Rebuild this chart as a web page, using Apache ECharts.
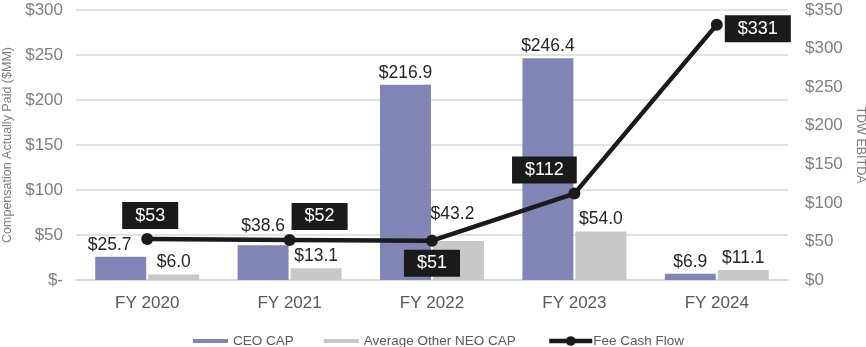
<!DOCTYPE html>
<html>
<head>
<meta charset="utf-8">
<script src="https://cdn.jsdelivr.net/npm/echarts@6/dist/echarts.min.js"></script>
<style>
  html, body { margin: 0; padding: 0; background: #fff; }
  #chart { width: 866px; height: 347px; }
</style>
</head>
<body>
<div id="chart"></div>
<script>
// Fiscal years on the category axis
const years = ['FY 2020', 'FY 2021', 'FY 2022', 'FY 2023', 'FY 2024'];
// Compensation actually paid, $MM (left axis)
const ceoCap = [25.7, 38.6, 216.9, 246.4, 6.9];
const neoCap = [6.0, 13.1, 43.2, 54.0, 11.1];
// Fee cash flow, TDW EBITDA (right axis)
const feeCashFlow = [53, 52, 51, 112, 331];
// Axis tick settings
const leftTicks = { min: 0, max: 300, interval: 50 };
const rightTicks = { min: 0, max: 350, interval: 50 };

const FONT = '"Liberation Sans", Arial, sans-serif';

// Per-point label placement tweaks so labels clear the line
const ceoLabelOffsets = [[-11, 0], [0, -7], [0, 0], [0, 0], [0, 0]];
const neoLabelOffsets = [[0, 0], [0, 0], [-6, -15], [0, 0], [0, 0]];
const flowLabelPlacement = [
  { position: 'top', distance: 4, offset: [3, 0] },
  { position: 'top', distance: 4, offset: [30, 0] },
  { position: 'bottom', distance: 3, offset: [0, 0] },
  { position: 'top', distance: 4, offset: [-30, 0] },
  { position: 'right', distance: 2, offset: [0, 4] }
];

const barLabel = {
  show: true,
  position: 'top',
  distance: 3,
  color: '#262626',
  fontSize: 17.5,
  fontFamily: FONT,
  formatter: p => '$' + p.value.toFixed(1)
};

const chart = echarts.init(document.getElementById('chart'));
chart.setOption({
  animation: false,
  textStyle: { fontFamily: FONT },
  grid: { left: 76, right: 78, top: 10, bottom: 67, containLabel: false, outerBoundsMode: 'none' },
  legend: [
    {
      data: ['CEO CAP', 'Average Other NEO CAP'],
      left: 188, top: 329,
      icon: 'rect', itemWidth: 35, itemHeight: 4, itemGap: 30,
      textStyle: { fontSize: 13.5, color: '#595959', fontFamily: FONT }
    },
    {
      data: ['Fee Cash Flow'],
      left: 542, top: 329,
      itemWidth: 43, itemHeight: 12,
      lineStyle: { width: 4.5, color: '#1a1a1a' },
      textStyle: { fontSize: 13.5, color: '#595959', fontFamily: FONT, padding: [0, 0, 0, -4] }
    }
  ],
  xAxis: {
    type: 'category',
    data: years,
    axisTick: { show: false },
    axisLine: { lineStyle: { color: '#d9d9d9', width: 1.5 } },
    axisLabel: { color: '#595959', fontSize: 17, margin: 15, fontFamily: FONT }
  },
  yAxis: [
    {
      type: 'value',
      min: leftTicks.min, max: leftTicks.max, interval: leftTicks.interval,
      name: 'Compensation Actually Paid ($MM)',
      nameLocation: 'middle', nameGap: 62,
      nameTextStyle: { color: '#7f7f7f', fontSize: 12.5, fontFamily: FONT },
      axisLine: { show: false }, axisTick: { show: false },
      splitLine: { lineStyle: { color: '#d9d9d9', width: 1.5 } },
      axisLabel: {
        color: '#7f7f7f', fontSize: 17, margin: 13, fontFamily: FONT,
        formatter: v => v === 0 ? '$-' : '$' + v
      }
    },
    {
      type: 'value',
      min: rightTicks.min, max: rightTicks.max, interval: rightTicks.interval,
      name: 'TDW EBITDA',
      nameLocation: 'middle', nameGap: 66, nameRotate: -90,
      nameTextStyle: { color: '#7f7f7f', fontSize: 12.5, fontFamily: FONT },
      axisLine: { show: false }, axisTick: { show: false },
      splitLine: { show: false },
      axisLabel: {
        color: '#7f7f7f', fontSize: 17, margin: 17, fontFamily: FONT,
        formatter: v => '$' + v
      }
    }
  ],
  series: [
    {
      name: 'CEO CAP',
      type: 'bar',
      barCategoryGap: '27%',
      barGap: '4%',
      itemStyle: { color: '#8185b6' },
      data: ceoCap.map((v, i) => ({ value: v, label: { offset: ceoLabelOffsets[i] } })),
      label: barLabel
    },
    {
      name: 'Average Other NEO CAP',
      type: 'bar',
      itemStyle: { color: '#c7c8ca' },
      data: neoCap.map((v, i) => ({ value: v, label: { offset: neoLabelOffsets[i] } })),
      label: barLabel
    },
    {
      name: 'Fee Cash Flow',
      type: 'line',
      yAxisIndex: 1,
      z: 5,
      symbol: 'circle',
      symbolSize: 12,
      lineStyle: { color: '#1a1a1a', width: 4.5 },
      itemStyle: { color: '#1a1a1a' },
      data: feeCashFlow.map((v, i) => ({ value: v, label: flowLabelPlacement[i] })),
      label: {
        show: true,
        color: '#ffffff',
        fontSize: 18,
        fontFamily: FONT,
        backgroundColor: '#1a1a1a',
        padding: [4, 13, 4, 13],
        lineHeight: 19,
        formatter: p => '$' + p.value
      }
    }
  ]
});
</script>
</body>
</html>
